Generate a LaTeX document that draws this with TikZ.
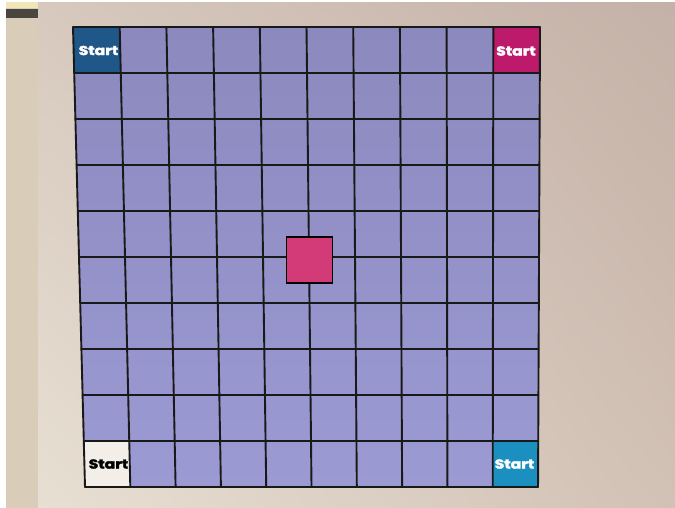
\documentclass[tikz,border=0pt]{standalone}
\usepackage{fontspec}
\setmainfont{Poppins}
\newfontfamily\startfont{Poppins}[FakeBold=2.2]
\usetikzlibrary{calc,shadings}
\definecolor{lavtop}{HTML}{8C89BE}
\definecolor{lavbot}{HTML}{9B9AD3}
\definecolor{startblue}{HTML}{1F5888}
\definecolor{startmag}{HTML}{BE1A6C}
\definecolor{startcyan}{HTML}{1B90C0}
\definecolor{startwhite}{HTML}{F3EFE8}
\definecolor{centerpink}{HTML}{D23A78}
\definecolor{paperA}{HTML}{C4B1A7}
\definecolor{paperB}{HTML}{E9E1D5}
\definecolor{paperC}{HTML}{D8CABF}
\definecolor{paperD}{HTML}{D2C1B5}
\definecolor{wall}{HTML}{D9CCB9}
\definecolor{walldark}{HTML}{4B4540}
\definecolor{wallyellow}{HTML}{F2E6B8}
\tikzset{
  gridline/.style={black!90, line width=1.9pt, line cap=round},
  startlabel/.style={font=\startfont\bfseries\fontsize{13}{13}\selectfont, inner sep=0pt},
}
\begin{document}
\begin{tikzpicture}[x=1pt,y=-1pt]
\useasboundingbox (0,0) rectangle (675,508);
% background paper
\shade[upper left=paperC, upper right=paperA, lower left=paperB, lower right=paperD] (0,0) rectangle (675,508);
% wall strip on the left
\fill[wall] (6,0) rectangle (38,508);
\fill[wallyellow] (6,2) rectangle (38,8);
\fill[walldark] (6,9) rectangle (38,18);
\fill[white] (0,0) rectangle (6,508);
\fill[white] (0,0) rectangle (675,2);
% board corners
\coordinate (TL) at (73,27);
\coordinate (TR) at (540,27);
\coordinate (BL) at (85,487);
\coordinate (BR) at (538,487);
% board fill
\shade[top color=lavtop, bottom color=lavbot] (TL) -- (TR) -- (BR) -- (BL) -- cycle;
% corner cells
\fill[startblue] (TL) -- ($(TL)!0.1!(TR)$) -- ($($(TL)!0.1!(TR)$)!0.1!($(BL)!0.1!(BR)$)$) -- ($(TL)!0.1!(BL)$) -- cycle;
\fill[startmag] (TR) -- ($(TL)!0.9!(TR)$) -- ($($(TL)!0.9!(TR)$)!0.1!($(BL)!0.9!(BR)$)$) -- ($(TR)!0.1!(BR)$) -- cycle;
\fill[startwhite] (BL) -- ($(BL)!0.1!(BR)$) -- ($($(TL)!0.1!(TR)$)!0.9!($(BL)!0.1!(BR)$)$) -- ($(TL)!0.9!(BL)$) -- cycle;
\fill[startcyan] (BR) -- ($(BL)!0.9!(BR)$) -- ($($(TL)!0.9!(TR)$)!0.9!($(BL)!0.9!(BR)$)$) -- ($(TR)!0.9!(BR)$) -- cycle;
% grid lines
\foreach \u in {0,0.1,...,1.01} {
  \draw[gridline] ($(TL)!\u!(TR)$) -- ($(BL)!\u!(BR)$);
  \draw[gridline] ($(TL)!\u!(BL)$) -- ($(TR)!\u!(BR)$);
}
% centre square
\node[draw=black, line width=1.9pt, fill=centerpink, minimum size=46pt, inner sep=0pt] (centre) at (309.5,260) {};
% start labels
\node[startlabel, text=white] (s1) at (98.5,50.5) {\scalebox{1.2}[1]{Start}};
\node[startlabel, text=white] (s2) at (516,51) {\scalebox{1.2}[1]{Start}};
\node[startlabel, text=black] (s3) at (108.5,464) {\scalebox{1.2}[1]{Start}};
\node[startlabel, text=white] (s4) at (514.5,464) {\scalebox{1.2}[1]{Start}};
\end{tikzpicture}
\end{document}
